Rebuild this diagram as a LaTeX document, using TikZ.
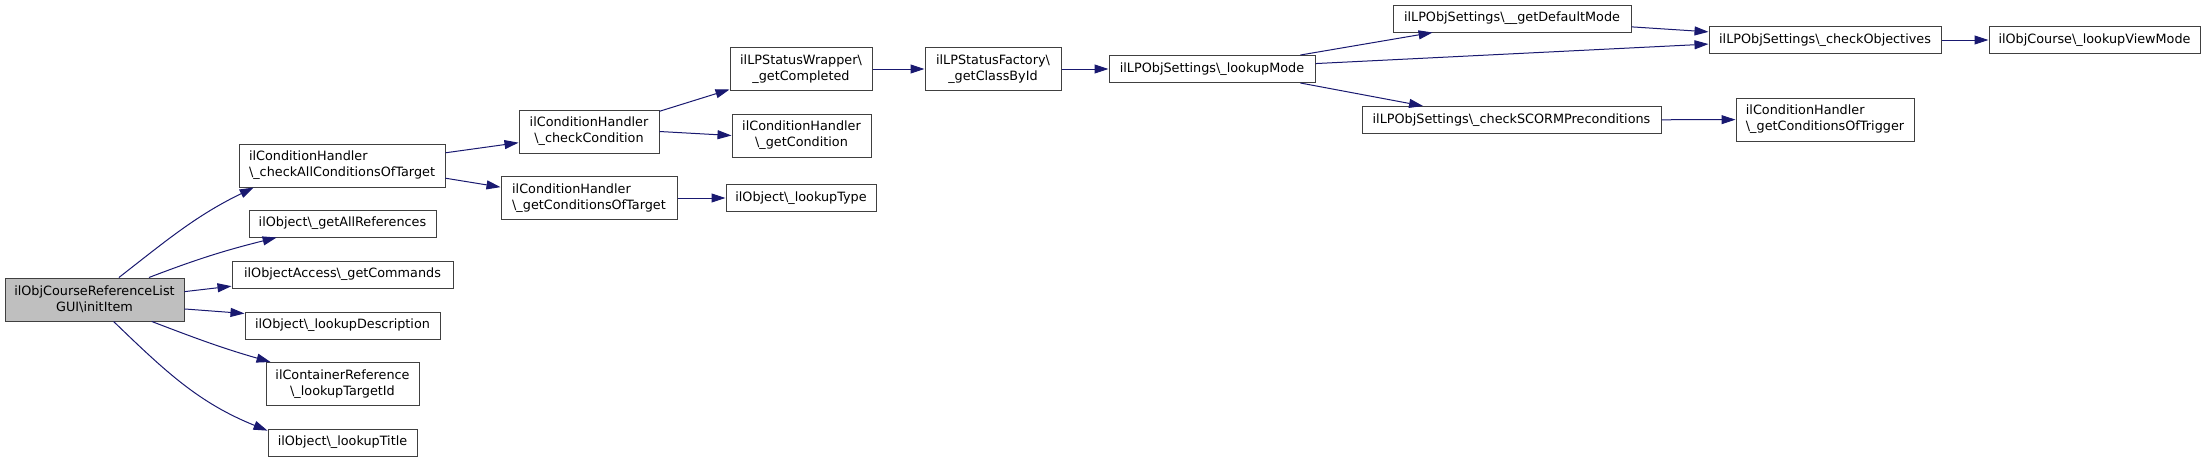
\documentclass[tikz,border=0pt]{standalone}
\usepackage{fontspec}
\setmainfont{DejaVu Sans}
\usepackage{xcolor}
\usepackage{tikz}
\usetikzlibrary{arrows.meta}

\definecolor{edgeblue}{HTML}{191970}
\definecolor{rootgray}{HTML}{BFBFBF}
\newcommand{\bsl}{\textbackslash}

\begin{document}
\begin{tikzpicture}[
    x=1pt, y=1pt,
    font=\fontsize{12.8}{16}\selectfont,
    func/.style={rectangle, draw=black!75, line width=1pt, fill=white, minimum height=27pt, inner sep=0pt, align=center},
    func2/.style={func, minimum height=43pt},
    arrow/.style={-{Triangle[length=14pt, width=9pt]}, draw=edgeblue, line width=1pt}
]
\useasboundingbox (0,0) rectangle (2205,-461);

% Caller
\node[func2, fill=rootgray, minimum width=179pt] (initItem) at (94.5,-299.5) {ilObjCourseReferenceList\\GUI\bsl initItem};

% First level calls
\node[func2, minimum width=206pt, align=left] (checkAll) at (342,-165.5) {ilConditionHandler\\\bsl\_checkAllConditionsOfTarget};
\node[func, minimum width=187pt] (getAllRefs) at (342.5,-223.5) {ilObject\bsl\_getAllReferences};
\node[func, minimum width=221pt] (getCommands) at (342.5,-274.5) {ilObjectAccess\bsl\_getCommands};
\node[func, minimum width=195pt] (lookupDesc) at (342.5,-325.5) {ilObject\bsl\_lookupDescription};
\node[func2, minimum width=153pt] (lookupTarget) at (342.5,-384) {ilContainerReference\\\bsl\_lookupTargetId};
\node[func, minimum width=149pt] (lookupTitle) at (342.5,-442.5) {ilObject\bsl\_lookupTitle};

% Condition handler
\node[func2, minimum width=140pt] (checkCond) at (589,-131.5) {ilConditionHandler\\\bsl\_checkCondition};
\node[func2, minimum width=176pt, align=left] (condOfTarget) at (589,-198) {ilConditionHandler\\\bsl\_getConditionsOfTarget};
\node[func2, minimum width=142pt] (getCompleted) at (801,-69) {ilLPStatusWrapper\bsl\\\_getCompleted};
\node[func2, minimum width=139pt] (getCondition) at (801.5,-135.5) {ilConditionHandler\\\bsl\_getCondition};
\node[func, minimum width=150pt] (lookupType) at (801,-198) {ilObject\bsl\_lookupType};

% Learning progress settings
\node[func2, minimum width=136pt] (classById) at (993,-69) {ilLPStatusFactory\bsl\\\_getClassById};
\node[func, minimum width=206pt] (lookupMode) at (1212,-69) {ilLPObjSettings\bsl\_lookupMode};
\node[func, minimum width=238pt] (defaultMode) at (1512,-18.5) {ilLPObjSettings\bsl\_\_getDefaultMode};
\node[func, minimum width=299pt] (checkScorm) at (1511.5,-120) {ilLPObjSettings\bsl\_checkSCORMPreconditions};
\node[func, minimum width=232pt] (checkObj) at (1825,-40) {ilLPObjSettings\bsl\_checkObjectives};
\node[func2, minimum width=178pt, align=left] (condOfTrigger) at (1825,-119.5) {ilConditionHandler\\\bsl\_getConditionsOfTrigger};
\node[func, minimum width=211pt] (viewMode) at (2094.5,-40) {ilObjCourse\bsl\_lookupViewMode};

% Calls from initItem
\draw[arrow] (initItem.42) to[out=38, in=206] (checkAll.194);
\draw[arrow] (initItem.22) to[out=21, in=194] (getAllRefs.192);
\draw[arrow] (initItem.5) -- (getCommands.186);
\draw[arrow] (initItem.-6) -- (lookupDesc.173);
\draw[arrow] (initItem.-21) to[out=-21, in=164] (lookupTarget.163);
\draw[arrow] (initItem.-49) to[out=-44, in=158] (lookupTitle.171);

% Deeper calls
\draw[arrow] (checkAll.7) -- (checkCond.189);
\draw[arrow] (checkAll.-7) -- (condOfTarget.173);
\draw[arrow] (checkCond.16) -- (getCompleted.196);
\draw[arrow] (checkCond.east) -- (getCondition.west);
\draw[arrow] (condOfTarget) -- (lookupType);
\draw[arrow] (getCompleted) -- (classById);
\draw[arrow] (classById) -- (lookupMode);
\draw[arrow] (lookupMode.9) -- (defaultMode.190);
\draw[arrow] (lookupMode.3) -- (checkObj.182);
\draw[arrow] (lookupMode.-9) -- (checkScorm.171);
\draw[arrow] (defaultMode.-4) -- (checkObj.176);
\draw[arrow] (checkScorm) -- (condOfTrigger);
\draw[arrow] (checkObj) -- (viewMode);
\end{tikzpicture}
\end{document}
